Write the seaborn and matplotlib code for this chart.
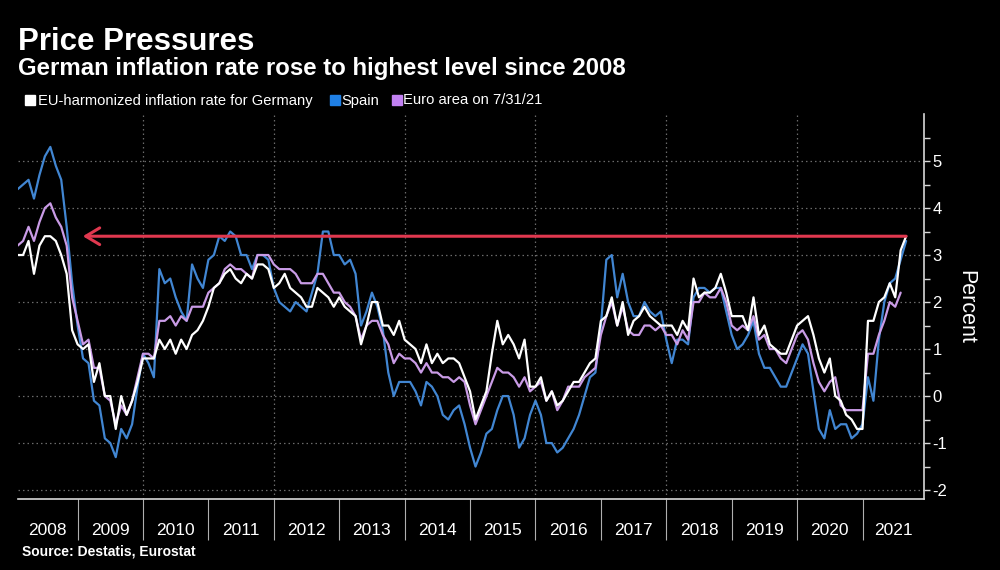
import numpy as np
import pandas as pd
import matplotlib
matplotlib.use("Agg")
import matplotlib.pyplot as plt
from matplotlib.patches import Rectangle
import seaborn as sns

# monthly inflation rates in percent, Jan 2008 onwards
germany = [
    3.0, 3.0, 3.3, 2.6, 3.2, 3.4, 3.4, 3.3, 3.0, 2.6, 1.4, 1.1,
    1.0, 1.1, 0.3, 0.7, 0.0, 0.0, -0.7, 0.0, -0.4, -0.1, 0.3, 0.8,
    0.8, 0.8, 1.2, 1.0, 1.2, 0.9, 1.2, 1.0, 1.3, 1.4, 1.6, 1.9,
    2.3, 2.4, 2.6, 2.7, 2.5, 2.4, 2.6, 2.5, 2.8, 2.8, 2.7, 2.3,
    2.4, 2.6, 2.3, 2.2, 2.1, 1.9, 1.9, 2.3, 2.2, 2.1, 1.9, 2.1,
    1.9, 1.8, 1.7, 1.1, 1.5, 2.0, 2.0, 1.5, 1.5, 1.3, 1.6, 1.2,
    1.1, 1.0, 0.7, 1.1, 0.7, 0.9, 0.7, 0.8, 0.8, 0.7, 0.4, 0.1,
    -0.5, -0.2, 0.1, 0.9, 1.6, 1.1, 1.3, 1.1, 0.8, 1.2, 0.2, 0.2,
    0.4, -0.1, 0.1, -0.2, -0.1, 0.1, 0.3, 0.3, 0.5, 0.7, 0.8, 1.6,
    1.7, 2.1, 1.5, 2.0, 1.3, 1.6, 1.7, 1.9, 1.7, 1.6, 1.5, 1.5,
    1.5, 1.3, 1.6, 1.4, 2.5, 2.1, 2.2, 2.2, 2.3, 2.6, 2.2, 1.7,
    1.7, 1.7, 1.4, 2.1, 1.3, 1.5, 1.1, 1.0, 0.9, 0.9, 1.2, 1.5,
    1.6, 1.7, 1.3, 0.8, 0.5, 0.8, 0.0, -0.1, -0.4, -0.5, -0.7, -0.7,
    1.6, 1.6, 2.0, 2.1, 2.4, 2.1, 3.1, 3.4,
]
spain = [
    4.4, 4.5, 4.6, 4.2, 4.7, 5.1, 5.3, 4.9, 4.6, 3.6, 2.4, 1.5,
    0.8, 0.7, -0.1, -0.2, -0.9, -1.0, -1.3, -0.7, -0.9, -0.6, 0.2, 0.9,
    0.7, 0.4, 2.7, 2.4, 2.5, 2.1, 1.8, 1.6, 2.8, 2.5, 2.3, 2.9,
    3.0, 3.4, 3.3, 3.5, 3.4, 3.0, 3.0, 2.7, 3.0, 3.0, 2.9, 2.3,
    2.0, 1.9, 1.8, 2.0, 1.9, 1.8, 2.2, 2.6, 3.5, 3.5, 3.0, 3.0,
    2.8, 2.9, 2.6, 1.5, 1.8, 2.2, 1.9, 1.4, 0.5, 0.0, 0.3, 0.3,
    0.3, 0.1, -0.2, 0.3, 0.2, 0.0, -0.4, -0.5, -0.3, -0.2, -0.6, -1.1,
    -1.5, -1.2, -0.8, -0.7, -0.3, 0.0, 0.0, -0.4, -1.1, -0.9, -0.4, -0.1,
    -0.4, -1.0, -1.0, -1.2, -1.1, -0.9, -0.7, -0.4, 0.0, 0.4, 0.5, 1.5,
    2.9, 3.0, 2.1, 2.6, 2.0, 1.7, 1.7, 2.0, 1.8, 1.7, 1.8, 1.2,
    0.7, 1.2, 1.2, 1.1, 2.1, 2.3, 2.3, 2.2, 2.3, 2.3, 1.8, 1.3,
    1.0, 1.1, 1.3, 1.6, 0.9, 0.6, 0.6, 0.4, 0.2, 0.2, 0.5, 0.8,
    1.1, 0.9, 0.1, -0.7, -0.9, -0.3, -0.7, -0.6, -0.6, -0.9, -0.8, -0.6,
    0.4, -0.1, 1.2, 2.0, 2.4, 2.5, 2.9, 3.3,
]
euro_area = [
    3.2, 3.3, 3.6, 3.3, 3.7, 4.0, 4.1, 3.8, 3.6, 3.2, 2.1, 1.6,
    1.1, 1.2, 0.6, 0.6, 0.0, -0.1, -0.6, -0.2, -0.4, -0.1, 0.4, 0.9,
    0.9, 0.8, 1.6, 1.6, 1.7, 1.5, 1.7, 1.6, 1.9, 1.9, 1.9, 2.2,
    2.3, 2.4, 2.7, 2.8, 2.7, 2.7, 2.6, 2.5, 3.0, 3.0, 3.0, 2.8,
    2.7, 2.7, 2.7, 2.6, 2.4, 2.4, 2.4, 2.6, 2.6, 2.4, 2.2, 2.2,
    2.0, 1.9, 1.7, 1.2, 1.5, 1.6, 1.6, 1.3, 1.1, 0.7, 0.9, 0.8,
    0.8, 0.7, 0.5, 0.7, 0.5, 0.5, 0.4, 0.4, 0.3, 0.4, 0.3, -0.2,
    -0.6, -0.3, 0.0, 0.3, 0.6, 0.5, 0.5, 0.4, 0.2, 0.4, 0.1, 0.2,
    0.3, -0.1, 0.1, -0.3, -0.1, 0.2, 0.2, 0.2, 0.4, 0.5, 0.6, 1.3,
    1.7, 2.0, 1.5, 1.9, 1.4, 1.3, 1.3, 1.5, 1.5, 1.4, 1.5, 1.3,
    1.3, 1.1, 1.4, 1.2, 2.0, 2.0, 2.2, 2.1, 2.1, 2.3, 2.0, 1.5,
    1.4, 1.5, 1.4, 1.7, 1.2, 1.3, 1.0, 1.0, 0.8, 0.7, 1.0, 1.3,
    1.4, 1.2, 0.7, 0.3, 0.1, 0.3, 0.4, -0.2, -0.3, -0.3, -0.3, -0.3,
    0.9, 0.9, 1.3, 1.6, 2.0, 1.9, 2.2,
]

series_names = ["EU-harmonized inflation rate for Germany", "Spain", "Euro area on 7/31/21"]
line_colors = ["#ffffff", "#4186d2", "#c99be6"]
legend_colors = ["#ffffff", "#1f80e6", "#c281f2"]
years = list(range(2008, 2022))
red = "#e0384f"

# month-end positions as decimal years
months = pd.date_range("2008-01-31", periods=len(germany), freq="ME")
xpos = np.array([d.year + d.month / 12 for d in months])

frames = []
for name, vals in zip(series_names, [germany, spain, euro_area]):
    frames.append(pd.DataFrame({"x": xpos[:len(vals)], "rate": vals, "series": name}))
df = pd.concat(frames, ignore_index=True)

sns.set_theme(style="dark")
plt.rcParams["font.family"] = ["Liberation Sans", "DejaVu Sans"]
plt.rcParams["axes.unicode_minus"] = False

fig = plt.figure(figsize=(10, 5.7), dpi=100, facecolor="black")
ax = fig.add_axes([0.018, 1 - 499 / 570, 0.906, 385 / 570])
ax.set_facecolor("black")

x0, x1 = 2008.089, 2021.94
ax.set_xlim(x0, x1)
ax.set_ylim(-2.19, 6.0)

# dotted grid
for yv in range(-2, 6):
    ax.axhline(yv, color="#6a6a6a", lw=0.9, ls=(0, (1.2, 2.4)), zorder=0)
for xv in range(2010, 2021, 2):
    ax.axvline(xv, color="#6a6a6a", lw=0.9, ls=(0, (1.2, 2.4)), zorder=0)

sns.lineplot(data=df, x="x", y="rate", hue="series",
             hue_order=[series_names[1], series_names[2], series_names[0]],
             palette=dict(zip(series_names, line_colors)),
             estimator=None, sort=False, lw=1.6, legend=False, ax=ax, zorder=3)

# red arrow back to the 2008 level
ax.annotate("", xy=(2009.08, germany[-1]), xytext=(xpos[len(germany) - 1], germany[-1]),
            arrowprops=dict(arrowstyle="->,head_length=0.5,head_width=0.3", color=red,
                            lw=2.2, shrinkA=0, shrinkB=0, mutation_scale=20),
            zorder=5)

# spines
for s in ["top", "left"]:
    ax.spines[s].set_visible(False)
for s in ["right", "bottom"]:
    ax.spines[s].set_visible(True)
    ax.spines[s].set_color("#d8d8d8")
    ax.spines[s].set_linewidth(1.2)

# right y axis
ax.yaxis.tick_right()
ax.set_yticks(range(-2, 6))
ax.set_yticks(np.arange(-1.5, 6, 1.0), minor=True)
ax.tick_params(axis="y", which="both", direction="out", length=4, width=1,
               color="#d8d8d8", labelcolor="white", labelsize=12, pad=2,
               left=False, right=True, labelleft=False, labelright=True)
ax.set_ylabel("")

# x axis: year separators and centred year labels
ax.set_xticks(years[1:])
ax.set_xticklabels([])
label_pos = [(x0 + 2009) / 2] + [y + 0.5 for y in years[1:-1]] + [(2021 + x1) / 2]
ax.set_xticks(label_pos, minor=True)
ax.set_xticklabels([str(y) for y in years], minor=True)
ax.tick_params(axis="x", which="major", direction="out", length=29.5, width=0.8,
               color="#b0b0b0", bottom=True)
ax.tick_params(axis="x", which="minor", length=0, labelcolor="white",
               labelsize=12.5, pad=17, bottom=True, labelbottom=True)
ax.set_xlabel("")

fig.text(0.9655, 1 - 307 / 570, "Percent", rotation=270, color="white",
         fontsize=15.5, ha="center", va="center")

# titles
fig.text(0.018, 1 - 50 / 570, "Price Pressures", color="white", fontsize=22.5,
         fontweight="bold", va="baseline")
fig.text(0.018, 1 - 75 / 570, "German inflation rate rose to highest level since 2008",
         color="white", fontsize=17.3, fontweight="bold", va="baseline")

# legend row
leg_x = [(25, 38), (330, 341), (392, 403)]
for (sq, tx), name, col in zip(leg_x, series_names, legend_colors):
    fig.patches.append(Rectangle((sq / 1000, 1 - 105 / 570), 9.5 / 1000, 9.5 / 570,
                                 transform=fig.transFigure, color=col, figure=fig))
    fig.text(tx / 1000, 1 - 100.5 / 570, name, color="white", fontsize=10.6, va="center")

fig.text(0.022, 1 - 556 / 570, "Source: Destatis, Eurostat", color="white",
         fontsize=10, fontweight="bold", va="baseline")

fig.savefig("out.png", dpi=100, facecolor="black")
